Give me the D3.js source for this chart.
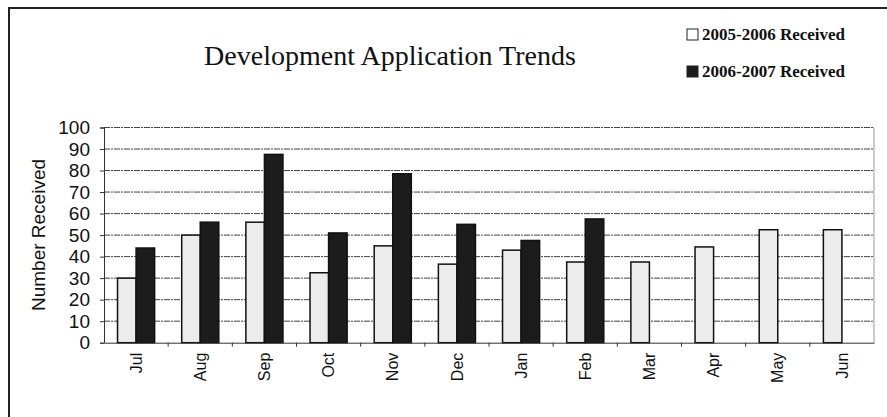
<!doctype html>
<html>
<head>
<meta charset="utf-8">
<script src="https://d3js.org/d3.v7.min.js"></script>
<style>
    body { margin: 0; background: #fff; }
    svg { display: block; }
</style>
</head>
<body>
<svg id="chart"></svg>

<script>

    var months = ["Jul", "Aug", "Sep", "Oct", "Nov", "Dec", "Jan", "Feb", "Mar", "Apr", "May", "Jun"];
    var received0506 = [30, 50, 56, 32.5, 45, 36.5, 43, 37.5, 37.5, 44.5, 52.5, 52.5];
    var received0607 = [44, 56, 87.5, 51, 78.5, 55, 47.5, 57.5, null, null, null, null];
    var seriesNames = ["2005-2006 Received", "2006-2007 Received"];
    var seriesFill = ["#ececec", "#1c1c1c"];
    var yTicks = [0, 10, 20, 30, 40, 50, 60, 70, 80, 90, 100];

    var W = 887, H = 417;
    var plotLeft = 104, plotRight = 874, plotTop = 127.5, plotBottom = 342.7;

    var svg = d3.select("#chart")
        .attr("width", W)
        .attr("height", H);

    // outer frame (left and top edge only, like the scan)
    svg.append("path")
        .attr("d", "M9," + H + "V8H" + W)
        .attr("fill", "none")
        .attr("stroke", "#222")
        .attr("stroke-width", 2);

    var x = d3.scaleBand().domain(months).range([plotLeft, plotRight]);
    var xs = d3.scaleBand().domain([0, 1]).range([0, x.bandwidth()]).paddingOuter(0.73);
    var y = d3.scaleLinear().domain([0, 100]).range([plotBottom, plotTop]);

    // gridlines
    svg.append("g")
        .selectAll("line")
        .data(yTicks.filter(function (d) { return d > 0; }))
        .enter().append("line")
        .attr("x1", plotLeft)
        .attr("x2", plotRight)
        .attr("y1", function (d) { return y(d); })
        .attr("y2", function (d) { return y(d); })
        .attr("stroke", "#444")
        .attr("stroke-width", 1)
        .attr("stroke-dasharray", "6,1,2,1");

    // right border of plot
    svg.append("line")
        .attr("x1", plotRight).attr("x2", plotRight)
        .attr("y1", plotTop).attr("y2", plotBottom)
        .attr("stroke", "#999");

    // bars
    var rows = months.map(function (m, i) {
        return { month: m, vals: [received0506[i], received0607[i]] };
    });

    var groups = svg.append("g")
        .selectAll("g")
        .data(rows)
        .enter().append("g")
        .attr("transform", function (d) { return "translate(" + x(d.month) + ",0)"; });

    groups.selectAll("rect")
        .data(function (d) {
            return d.vals.map(function (v, k) { return { k: k, v: v }; })
                .filter(function (e) { return e.v != null; });
        })
        .enter().append("rect")
        .attr("x", function (d) { return xs(d.k); })
        .attr("y", function (d) { return y(d.v); })
        .attr("width", xs.bandwidth())
        .attr("height", function (d) { return plotBottom - y(d.v); })
        .attr("fill", function (d) { return seriesFill[d.k]; })
        .attr("stroke", "#111")
        .attr("stroke-width", 1.5);

    // y axis
    var yAxis = svg.append("g")
        .attr("transform", "translate(" + plotLeft + ",0)")
        .call(d3.axisLeft(y).tickValues(yTicks).tickSize(4).tickPadding(10));
    yAxis.select(".domain").attr("stroke", "#333");
    yAxis.selectAll(".tick line").attr("stroke", "#333");
    yAxis.selectAll("text")
        .attr("fill", "#111")
        .style("font-family", "Liberation Sans, Arial, sans-serif")
        .style("font-size", "19px");

    // x axis
    var xAxis = svg.append("g")
        .attr("transform", "translate(0," + plotBottom + ")")
        .call(d3.axisBottom(x).tickSize(0).tickPadding(0));
    xAxis.select(".domain").attr("stroke", "#333");
    xAxis.selectAll("text")
        .attr("fill", "#111")
        .style("font-family", "Liberation Sans, Arial, sans-serif")
        .style("font-size", "16px")
        .style("text-anchor", "end")
        .attr("dy", "0.35em")
        .attr("transform", "translate(0,10) rotate(-90)");

    // tick marks between categories
    svg.append("g")
        .selectAll("line")
        .data(months.slice(1))
        .enter().append("line")
        .attr("x1", function (d) { return x(d); })
        .attr("x2", function (d) { return x(d); })
        .attr("y1", plotBottom)
        .attr("y2", plotBottom + 4)
        .attr("stroke", "#333");

    // y axis title
    svg.append("text")
        .attr("transform", "translate(45,235) rotate(-90)")
        .attr("text-anchor", "middle")
        .style("font-family", "Liberation Sans, Arial, sans-serif")
        .style("font-size", "19px")
        .attr("fill", "#111")
        .text("Number Received");

    // title
    svg.append("text")
        .attr("x", 390)
        .attr("y", 65)
        .attr("text-anchor", "middle")
        .style("font-family", "Liberation Serif, Times New Roman, serif")
        .style("font-size", "28px")
        .attr("fill", "#111")
        .text("Development Application Trends");

    // legend
    var legend = svg.append("g")
        .selectAll("g")
        .data(seriesNames)
        .enter().append("g")
        .attr("transform", function (d, i) { return "translate(687," + (29 + i * 37) + ")"; });

    legend.append("rect")
        .attr("width", 11)
        .attr("height", 11)
        .attr("fill", function (d, i) { return i === 0 ? "#fff" : seriesFill[1]; })
        .attr("stroke", "#222");

    legend.append("text")
        .attr("x", 15)
        .attr("y", 11)
        .style("font-family", "Liberation Serif, Times New Roman, serif")
        .style("font-size", "17px")
        .style("font-weight", "bold")
        .attr("fill", "#111")
        .text(function (d) { return d; });

</script>
</body>
</html>
